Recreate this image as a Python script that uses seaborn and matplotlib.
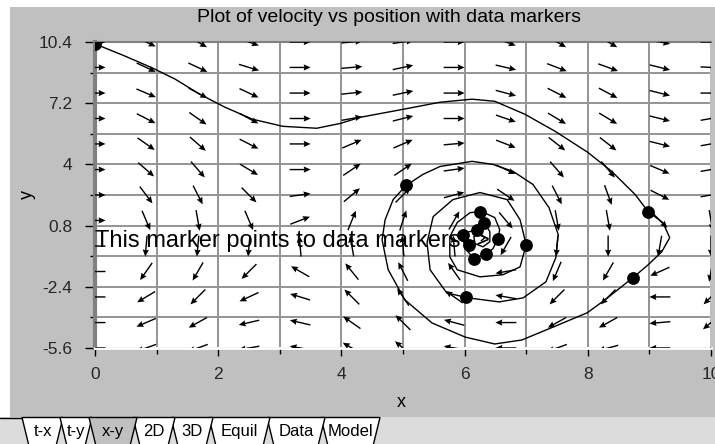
import numpy as np
import matplotlib
matplotlib.use("Agg")
import matplotlib.pyplot as plt
import seaborn as sns
from matplotlib.patches import Rectangle, Polygon

# ---------------- data ----------------
title = "Plot of velocity vs position with data markers"
note_text = "This marker points to data markers-->"
x_label = "x"
y_label = "y"

x_ticks = [0, 2, 4, 6, 8, 10]
x_tick_labels = ["0", "2", "4", "6", "8", "10"]
x_minor = [1, 3, 5, 7, 9]
y_ticks = [-5.6, -2.4, 0.8, 4, 7.2, 10.4]
y_tick_labels = ["-5.6", "-2.4", "0.8", "4", "7.2", "10.4"]
y_minor = [-4.0, -0.8, 2.4, 5.6, 8.8]

# direction-field sample positions
field_x = [0.0, 0.83, 1.67, 2.5, 3.33, 4.17, 5.0, 5.83, 6.67, 7.5, 8.33, 9.17, 10.0]
field_y = [-5.6, -4.27, -2.93, -1.6, -0.27, 1.07, 2.4, 3.73, 5.07, 6.4, 7.73, 9.07, 10.4]

# arrow directions on screen (degrees), one list per column, bottom -> top
ang_c0 = [180, 180, 180, 180, 180, 0, 0, 0, 0, 0, 0, 0, 0]
ang_c1 = [-160, -157, -149, -125, -95, -67, -53, -41, -35, -27, -23, -25, -25]
ang_c2 = [-160, -151, -135, -120, -95, -80, -63, -49, -41, -35, -28, -25, -30]
ang_c3 = [-170, -167, -155, -135, -95, -67, -45, -31, -27, -28, -25, -17, -20]
ang_c4 = [170, 167, 163, 150, 95, 21, 8, 0, 0, 0, 0, 0, 0]
ang_c5 = [150, 145, 135, 129, 100, 68, 40, 34, 23, 10, 6, 5, 5]
ang_c6 = [140, 135, 124, 117, 95, 72, 45, 34, 23, 14, 12, 12, 8]
ang_c7 = [170, 165, 145, 125, 95, 60, 15, 8, 5, 0, 0, 0, 0]
ang_c8 = [180, 180, 170, -170, -120, -50, -34, -25, -21, -19, -15, -13, -20]
ang_c9 = [-160, -151, -135, -113, -95, -80, -63, -49, -38, -31, -27, -21, -30]
ang_c10 = [-165, -151, -135, -120, -90, -80, -70, -50, -38, -31, -28, -20, -30]
ang_c11 = [180, -175, 180, -156, -100, -45, -27, -23, -14, -14, -14, -14, -10]
ang_c12 = [-140, -140, -135, -100, -90, -80, 10, 10, 10, 10, 0, -3, 0]

# trajectory (position x, velocity y)
traj_x = [0.00, 0.49, 0.94, 1.30, 1.70, 2.11, 2.56, 3.05, 3.60, 3.98, 4.30, 5.00, 5.60,
          6.12, 6.49, 6.98, 7.47, 8.00, 8.39, 8.77, 8.98, 9.22, 9.33, 9.20, 8.98, 8.73,
          8.28, 7.99, 7.44, 6.93, 6.49, 6.01, 5.47, 5.03, 4.76, 4.66, 4.71, 4.84, 5.05,
          5.32, 5.60, 6.12, 6.46, 6.79, 7.11, 7.37, 7.52, 7.48, 7.32, 6.95, 6.56, 6.06,
          5.71, 5.44, 5.39, 5.49, 5.81, 6.25, 6.69, 6.90, 7.00, 6.90, 6.62, 6.25, 5.88,
          5.76, 5.76, 5.88, 6.09, 6.28, 6.49, 6.57, 6.54, 6.46, 6.35, 6.15, 6.04, 5.97,
          6.02, 6.20, 6.32, 6.41, 6.41, 6.30, 6.17, 6.15, 6.25, 6.33, 6.27]
traj_y = [10.30, 9.66, 9.03, 8.46, 7.67, 6.99, 6.36, 5.99, 5.89, 6.14, 6.46, 6.88, 7.25,
          7.41, 7.30, 6.62, 5.73, 4.63, 3.63, 2.42, 1.53, 0.95, 0.17, -0.57, -1.25, -1.93,
          -3.08, -3.76, -4.50, -5.18, -5.39, -5.03, -4.29, -3.08, -1.51, 0.06, 1.11, 2.16, 2.90,
          3.47, 3.89, 4.16, 4.00, 3.63, 2.95, 1.74, 0.33, -0.88, -2.14, -2.98, -3.19, -2.98,
          -2.72, -1.51, -0.09, 1.27, 2.16, 2.53, 2.16, 1.11, -0.20, -1.36, -1.77, -1.88, -1.51,
          -0.83, 0.22, 0.96, 1.48, 1.53, 1.22, 0.59, 0.12, -0.41, -0.67, -0.93, -0.51, 0.06,
          0.43, 0.59, 0.95, 0.48, -0.04, -0.31, -0.15, 0.22, 0.38, 0.17, 0.01]

# data markers
mark_x = [0.00, 8.98, 8.73, 5.05, 6.02, 7.00, 6.25, 6.32, 6.20, 5.97, 6.07, 6.15, 6.35, 6.54]
mark_y = [10.30, 1.53, -1.93, 2.90, -2.93, -0.20, 1.53, 0.95, 0.59, 0.33, -0.20, -0.93, -0.67, 0.12]

tab_labels = ["t-x", "t-y", "x-y", "2D", "3D", "Equil", "Data", "Model"]
selected_tab = "x-y"

# ---------------- drawing ----------------
sns.set_theme(style="white")
plt.rcParams['font.family'] = ['Liberation Sans', 'DejaVu Sans']

W, H = 715, 444
fig = plt.figure(figsize=(W / 100, H / 100), dpi=100)
panel = '#c0c0c0'
fig.patch.set_facecolor(panel)

# background decorations (pixel coordinates)
bg = fig.add_axes([0, 0, 1, 1], zorder=-5)
bg.set_xlim(0, W)
bg.set_ylim(H, 0)
bg.axis('off')
bg.add_patch(Rectangle((0, 0), W, 7, facecolor='white', edgecolor='none'))
bg.add_patch(Rectangle((0, 0), 10, 417, facecolor='white', edgecolor='none'))
bg.add_patch(Rectangle((0, 417), W, 27, facecolor='#dcdcdc', edgecolor='none'))

tab_bounds = [(22, 63), (60, 92), (89, 137), (133, 175), (171, 213), (209, 270), (267, 325), (321, 380)]
sel = tab_labels.index(selected_tab)
order = list(range(sel)) + list(range(len(tab_labels) - 1, sel, -1)) + [sel]
for i in order:
    a, b = tab_bounds[i]
    fc = panel if i == sel else 'white'
    bg.add_patch(Polygon([(a, 417.5), (b, 417.5), (b - 7, 446), (a + 7, 446)],
                         closed=True, facecolor=fc, edgecolor='black', lw=1.0))
    bg.text((a + b) / 2, 431, tab_labels[i], ha='center', va='center', fontsize=12, color='black')
bg.plot([0, 22], [417.5, 417.5], color='black', lw=1.0)

# title in the grey panel
fig.text(389 / W, 1 - 18 / H, title, ha='center', va='center', fontsize=14, color='black')

# main plot
ax = fig.add_axes([95 / W, 1 - 348 / H, 616 / W, 306 / H])
ax.set_facecolor('white')
ax.set_xlim(0, 10)
ax.set_ylim(-5.6, 10.4)

ax.set_xticks(x_ticks)
ax.set_xticklabels(x_tick_labels)
ax.set_xticks(x_minor, minor=True)
ax.set_yticks(y_ticks)
ax.set_yticklabels(y_tick_labels)
ax.set_yticks(y_minor, minor=True)
ax.set_axisbelow(True)
ax.grid(which='both', color='#949494', lw=1.4)

ax.tick_params(axis='y', which='major', length=7.5, width=1, color='black', pad=9, labelsize=12.5, left=True)
ax.tick_params(axis='y', which='minor', length=3.8, width=1, color='black', left=True)
ax.tick_params(axis='x', which='major', length=5.5, width=1, color='black', pad=8, labelsize=12.5, bottom=True)
ax.tick_params(axis='x', which='minor', length=4, width=1, color='black', bottom=True)

for s, c, w in [('left', '#808080', 3), ('top', '#808080', 1.5), ('bottom', 'white', 2), ('right', panel, 1.5)]:
    ax.spines[s].set_color(c)
    ax.spines[s].set_linewidth(w)

# direction field
X, Y = np.meshgrid(field_x, field_y)
ANG = np.radians(np.column_stack([ang_c0, ang_c1, ang_c2, ang_c3, ang_c4, ang_c5, ang_c6,
                                  ang_c7, ang_c8, ang_c9, ang_c10, ang_c11, ang_c12]))
ax.quiver(X, Y, np.cos(ANG), np.sin(ANG), angles='uv', scale_units='dots', scale=1 / 21,
          pivot='middle', units='dots', width=1.4, headwidth=4.5, headlength=5,
          headaxislength=4.5, color='black', zorder=3)

# trajectory and data markers
sns.lineplot(x=traj_x, y=traj_y, sort=False, estimator=None, color='black', lw=1.0, ax=ax, zorder=4)
sns.scatterplot(x=mark_x, y=mark_y, s=85, color='black', edgecolor='black', linewidth=0, ax=ax, zorder=5)

ax.text(0, 0.0, note_text, ha='left', va='center', fontsize=17, color='black', zorder=6)

ax.set_xlabel(x_label, fontsize=13, color='black')
ax.xaxis.set_label_coords(0.498, -0.150)
ax.set_ylabel(y_label, fontsize=13, color='black')
ax.yaxis.set_label_coords(-0.096, 0.503)

fig.savefig("out.png", dpi=100, facecolor=fig.get_facecolor())
